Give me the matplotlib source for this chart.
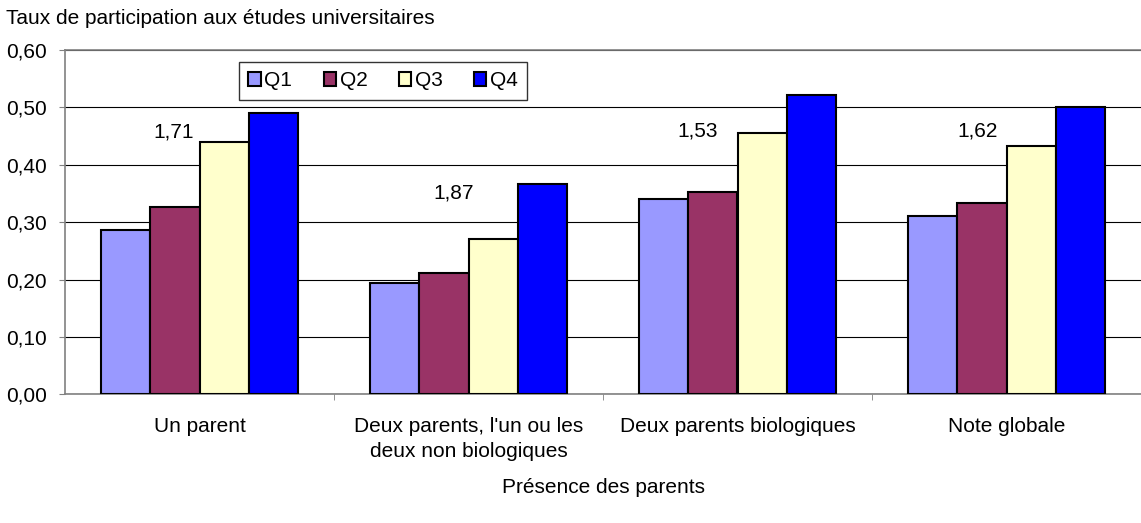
import matplotlib
matplotlib.use("Agg")
import matplotlib.pyplot as plt
import numpy as np
from matplotlib.ticker import FixedLocator

plt.rcParams['font.family'] = ['Liberation Sans', 'DejaVu Sans']

categories = ["Un parent", "Deux parents, l'un ou les\ndeux non biologiques",
              "Deux parents biologiques", "Note globale"]
series = ["Q1", "Q2", "Q3", "Q4"]
q1 = [0.287, 0.194, 0.340, 0.310]
q2 = [0.326, 0.211, 0.353, 0.333]
q3 = [0.440, 0.270, 0.456, 0.432]
q4 = [0.490, 0.366, 0.521, 0.501]
ratios = ["1,71", "1,87", "1,53", "1,62"]
ratio_x = [-0.095, 0.946, 1.853, 2.894]
ratio_y = [0.457, 0.351, 0.459, 0.459]
yticks = [0.0, 0.1, 0.2, 0.3, 0.4, 0.5, 0.6]
ytick_labels = ["0,00", "0,10", "0,20", "0,30", "0,40", "0,50", "0,60"]
colors = ["#9999FF", "#993366", "#FFFFCC", "#0000FF"]

FS = 15

fig = plt.figure(figsize=(11.41, 5.23), dpi=100)
ax = fig.add_axes([65/1141, (523-394.3)/523, 1 - 65/1141, (394.3-50)/523])

x = np.arange(len(categories))
w = 0.184
for i, (vals, name) in enumerate(zip([q1, q2, q3, q4], series)):
    ax.bar(x + (i - 1.5) * w, vals, w, color=colors[i], edgecolor='black',
           linewidth=1.5, label=name, zorder=3)

for t, xx, yy in zip(ratios, ratio_x, ratio_y):
    ax.text(xx, yy, t, ha='center', va='center', fontsize=FS, zorder=4)

ax.set_xlim(-0.5, 3.5)
ax.set_ylim(0, 0.6)
ax.set_yticks(yticks)
ax.set_yticklabels(ytick_labels, fontsize=FS)
ax.yaxis.grid(True, color='black', linewidth=0.8, zorder=0)
ax.set_axisbelow(True)

ax.set_xticks(x)
ax.set_xticklabels(categories, fontsize=FS, linespacing=1.45)
ax.tick_params(axis='x', which='major', length=0, pad=16)
ax.xaxis.set_minor_locator(FixedLocator([0.5, 1.5, 2.5]))
ax.tick_params(axis='x', which='minor', length=4, color='#808080', direction='out')
ax.tick_params(axis='y', length=4, color='#808080', direction='out', pad=9)

for s in ['left', 'bottom', 'top']:
    ax.spines[s].set_color('#808080')
    ax.spines[s].set_linewidth(1.2)
ax.spines['right'].set_visible(False)

ax.set_xlabel("Présence des parents", fontsize=FS, labelpad=12)
fig.text(6/1141, 1 - 19/523, "Taux de participation aux études universitaires",
         fontsize=FS, ha='left', va='center')

leg = ax.legend(ncol=4, loc='upper left', bbox_to_anchor=((239-65)/1076, (394.3-62)/344.3),
                frameon=True, fancybox=False, edgecolor='black', fontsize=FS,
                handlelength=0.6, handleheight=0.6, handletextpad=0.17,
                columnspacing=1.5, borderpad=0.45, borderaxespad=0)
leg.get_frame().set_linewidth(1.0)

fig.savefig("out.png", dpi=100)
